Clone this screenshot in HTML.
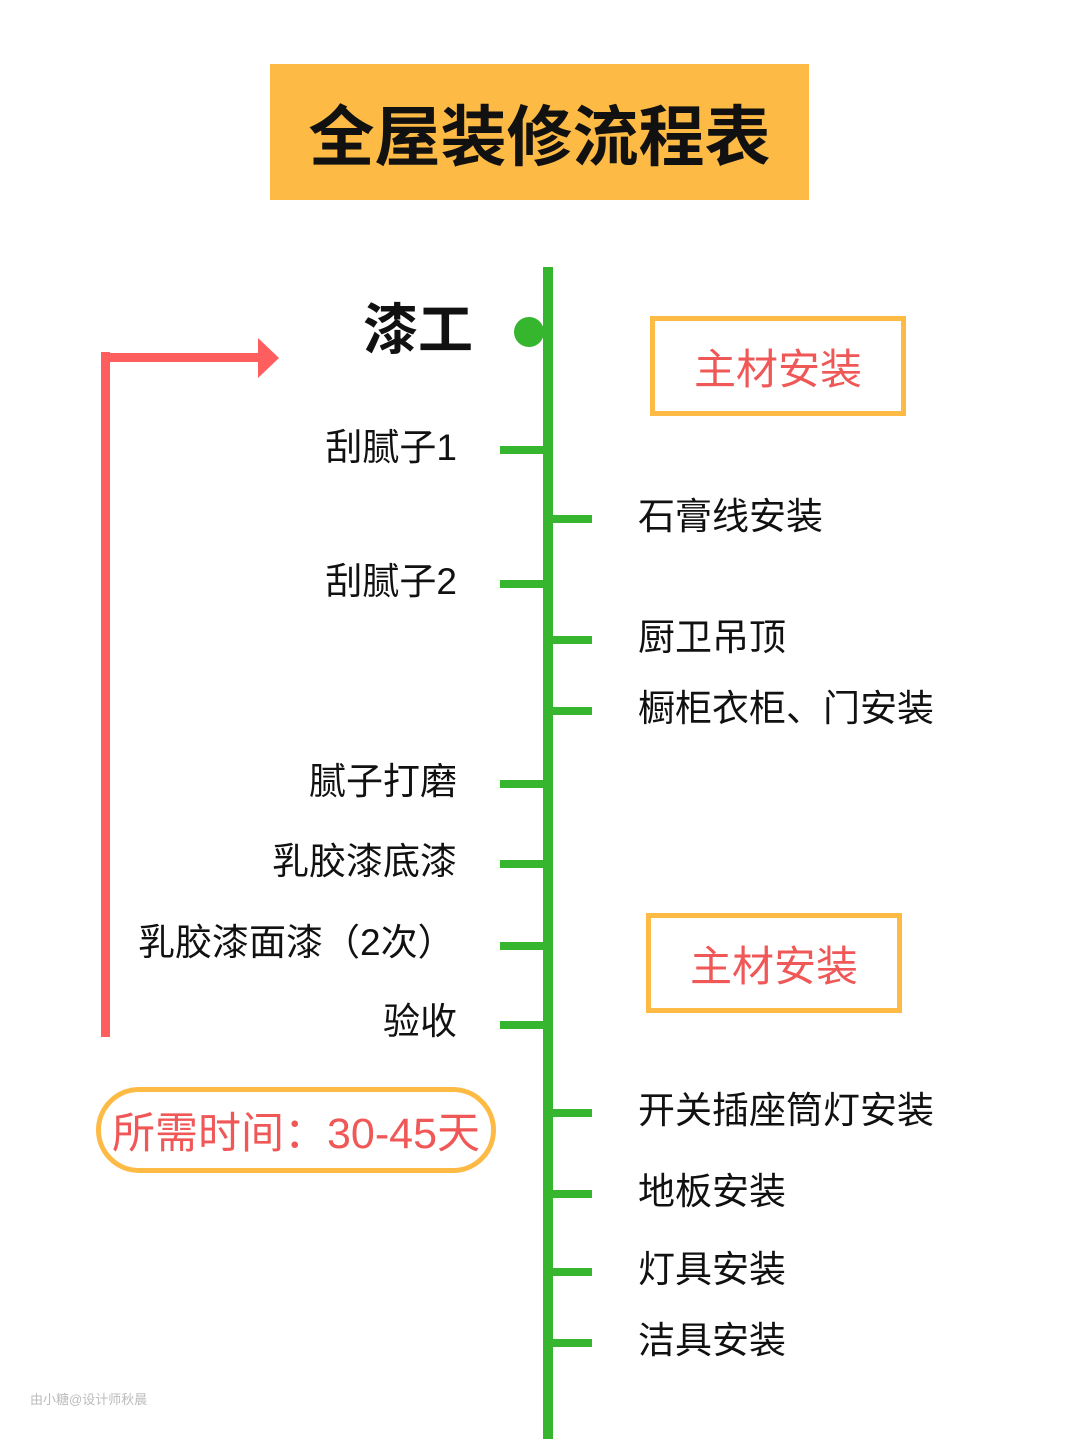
<!DOCTYPE html>
<html><head><meta charset="utf-8"><style>
body{margin:0;width:1080px;height:1439px;background:#fff;position:relative;overflow:hidden;font-family:"Liberation Sans","Noto Sans CJK SC",sans-serif;}
.a{position:absolute;white-space:nowrap;line-height:1;}
.l{right:623px;font-size:37px;color:#111;}
.r{left:638px;font-size:37px;color:#111;}
.box{position:absolute;border:5px solid #FDBA45;box-sizing:border-box;display:flex;align-items:center;justify-content:center;color:#F05757;font-size:42px;}
</style></head><body>
<div style="position:absolute;left:270px;top:64px;width:539px;height:136px;background:#FDBA45;display:flex;align-items:center;justify-content:center;font-size:66px;font-weight:bold;color:#111;">全屋装修流程表</div>
<svg width="1080" height="1439" style="position:absolute;left:0;top:0">
<g fill="#36B52F">
<rect x="543" y="267" width="10" height="1172"/>
<circle cx="529" cy="332" r="15"/>
<rect x="500" y="446" width="46" height="8"/><rect x="500" y="580" width="46" height="8"/><rect x="500" y="780" width="46" height="8"/><rect x="500" y="860" width="46" height="8"/><rect x="500" y="942" width="46" height="8"/><rect x="500" y="1021" width="46" height="8"/>
<rect x="550" y="515" width="42" height="8"/><rect x="550" y="636" width="42" height="8"/><rect x="550" y="707" width="42" height="8"/><rect x="550" y="1109" width="42" height="8"/><rect x="550" y="1190" width="42" height="8"/><rect x="550" y="1268" width="42" height="8"/><rect x="550" y="1339" width="42" height="8"/>
</g>
<g fill="#FF5E5E">
<rect x="101" y="352" width="9" height="685"/>
<rect x="101" y="353" width="160" height="9"/>
<polygon points="258,338 279,358 258,378"/>
</g>
</svg>
<div class="a" style="right:607px;top:303px;font-size:55px;font-weight:bold;color:#111;">漆工</div>
<div class="a l" style="top:429px">刮腻子1</div>
<div class="a l" style="top:563px">刮腻子2</div>
<div class="a l" style="top:763px">腻子打磨</div>
<div class="a l" style="top:843px">乳胶漆底漆</div>
<div class="a" style="left:138px;top:924px;font-size:37px;color:#111;">乳胶漆面漆（2次）</div>
<div class="a l" style="top:1003px">验收</div>
<div class="a r" style="top:498px">石膏线安装</div>
<div class="a r" style="top:619px">厨卫吊顶</div>
<div class="a r" style="top:690px">橱柜衣柜、门安装</div>
<div class="a r" style="top:1092px">开关插座筒灯安装</div>
<div class="a r" style="top:1173px">地板安装</div>
<div class="a r" style="top:1251px">灯具安装</div>
<div class="a r" style="top:1322px">洁具安装</div>
<div class="box" style="left:650px;top:316px;width:256px;height:100px;">主材安装</div>
<div class="box" style="left:646px;top:913px;width:256px;height:100px;">主材安装</div>
<div class="box" style="left:96px;top:1087px;width:400px;height:86px;border-radius:43px;font-size:43px;">所需时间：30-45天</div>
<div class="a" style="left:30px;top:1393px;font-size:13px;color:#bbb;">由小糖@设计师秋晨</div>
</body></html>
